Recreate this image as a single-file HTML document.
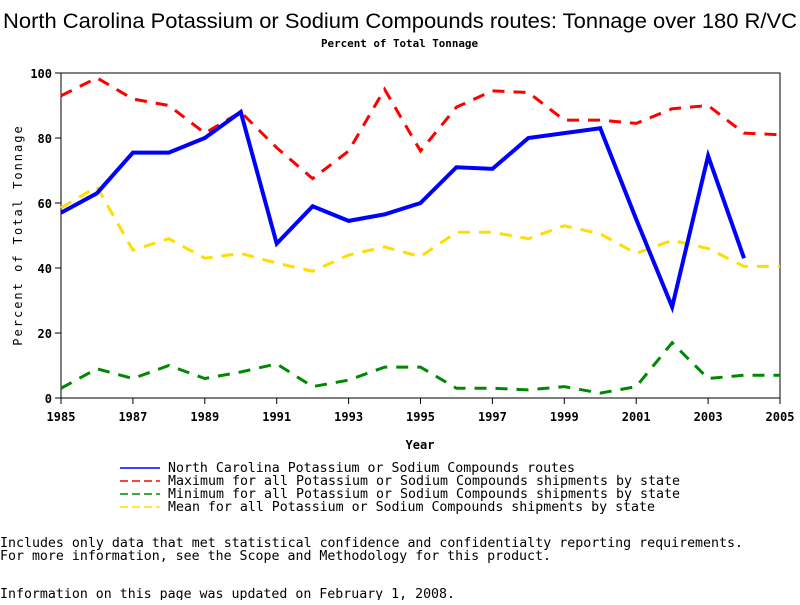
<!DOCTYPE html>
<html><head><style>
body{margin:0;background:#fff;width:800px;height:600px;overflow:hidden}
svg text{font-family:"DejaVu Sans Mono","Liberation Mono",monospace}
</style></head><body>
<svg id="s" width="800" height="600" xmlns="http://www.w3.org/2000/svg">
<text x="3" y="28" textLength="794" lengthAdjust="spacingAndGlyphs" style="font-family:'Liberation Sans',sans-serif" font-size="21">North Carolina Potassium or Sodium Compounds routes: Tonnage over 180 R/VC</text>
<text x="321" y="47" textLength="157" lengthAdjust="spacingAndGlyphs" font-size="11" font-weight="bold">Percent of Total Tonnage</text>
<rect x="61" y="73" width="719" height="325" fill="none" stroke="#000" stroke-width="1"/>
<text x="22" y="235" transform="rotate(-90 22 235)" text-anchor="middle" font-size="12" letter-spacing="2">Percent of Total Tonnage</text>
<text x="420" y="449" text-anchor="middle" font-size="12" font-weight="bold">Year</text>
<g id="ax" font-size="12" font-weight="bold"></g>
<g id="lines" fill="none"></g>
<g font-size="13">
<line x1="120" y1="468" x2="160" y2="468" stroke="#00f" stroke-width="1.5"/>
<line x1="120" y1="481" x2="160" y2="481" stroke="#f00" stroke-width="1.5" stroke-dasharray="8,4"/>
<line x1="120" y1="494" x2="160" y2="494" stroke="#080" stroke-width="1.5" stroke-dasharray="8,4"/>
<line x1="120" y1="507" x2="160" y2="507" stroke="#fd0" stroke-width="1.5" stroke-dasharray="8,4"/>
<text x="168" y="472" textLength="407" lengthAdjust="spacingAndGlyphs">North Carolina Potassium or Sodium Compounds routes</text>
<text x="168" y="485" textLength="512" lengthAdjust="spacingAndGlyphs">Maximum for all Potassium or Sodium Compounds shipments by state</text>
<text x="168" y="498" textLength="512" lengthAdjust="spacingAndGlyphs">Minimum for all Potassium or Sodium Compounds shipments by state</text>
<text x="168" y="511" textLength="487" lengthAdjust="spacingAndGlyphs">Mean for all Potassium or Sodium Compounds shipments by state</text>
<text x="0" y="547" textLength="743" lengthAdjust="spacingAndGlyphs">Includes only data that met statistical confidence and confidentialty reporting requirements.</text>
<text x="0" y="560" textLength="551" lengthAdjust="spacingAndGlyphs">For more information, see the Scope and Methodology for this product.</text>
<text x="0" y="598" textLength="455" lengthAdjust="spacingAndGlyphs">Information on this page was updated on February 1, 2008.</text>
</g>
</svg>
<script>
var NS="http://www.w3.org/2000/svg";
function X(i){return 61+i*35.95}function Y(v){return 398-3.25*v}
var ax=document.getElementById('ax');
function el(p,t,a,txt){var e=document.createElementNS(NS,t);for(var k in a)e.setAttribute(k,a[k]);if(txt)e.textContent=txt;p.appendChild(e);return e}
for(var v=0;v<=100;v+=20){el(ax,'line',{x1:55,x2:61,y1:Y(v),y2:Y(v),stroke:'#000'});el(ax,'text',{x:52,y:Y(v)+5,'text-anchor':'end'},String(v))}
for(var y=1985;y<=2005;y+=2){var x=X(y-1985);el(ax,'line',{x1:x,x2:x,y1:398,y2:404,stroke:'#000'});el(ax,'text',{x:x,y:421,'text-anchor':'middle'},String(y))}
var L=document.getElementById('lines');
function pl(d,c,w,dash){el(L,'polyline',{points:d.map(function(v,i){return X(i)+','+Y(v)}).join(' '),stroke:c,'stroke-width':w,'stroke-dasharray':dash||'none'})}
pl([3,9,6,10,6,8,10.5,3.5,5.5,9.5,9.5,3,3,2.5,3.5,1.5,3.5,17,6,7,7],'#080',3,'12,9');
pl([58.5,65,45.5,49,43,44.5,41.5,39,44,46.5,43.5,51,51,49,53,50.5,44.5,48.5,46,40.5,40.5],'#fd0',3,'12,9');
pl([93,98.5,92,90,81.5,88,77,67.5,76,95,76,89.5,94.5,94,85.5,85.5,84.5,89,90,81.5,81],'#f00',3,'12,9');
pl([57,63,75.5,75.5,80,88,47.5,59,54.5,56.5,60,71,70.5,80,81.5,83,55,28,74.5,43],'#00f',4);
</script>
</body></html>
